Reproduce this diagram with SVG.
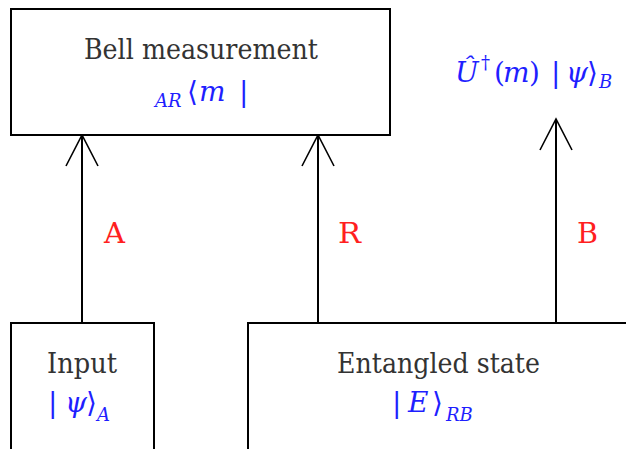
<svg xmlns="http://www.w3.org/2000/svg" width="626" height="449" viewBox="0 0 626 449">
<style>
.box{fill:#fff;stroke:#000;stroke-width:2}
.t{font-family:'DejaVu Serif','Liberation Serif',serif;font-size:27px;fill:#333}
.m{font-family:'DejaVu Serif','Liberation Serif',serif;font-size:28px;fill:#1f1fff}
.i{font-style:italic}
.s{font-size:18px;font-style:italic}
.lab{font-family:'DejaVu Serif','Liberation Serif',serif;font-size:27px;fill:#ff1f1f}
.c{stroke:#000;stroke-width:2;fill:none}
</style>
<defs>
<marker id="ah" markerUnits="userSpaceOnUse" markerWidth="40" markerHeight="40" viewBox="-35 -20 40 40" refX="0" refY="0" orient="auto">
<path d="M-31,-16 L0,0 L-31,16" fill="none" stroke="#000" stroke-width="1.6"/>
</marker>
</defs>
<g id="connectors">
<line class="c" x1="82" y1="323" x2="82" y2="135" marker-end="url(#ah)"/>
<line class="c" x1="318" y1="323" x2="318" y2="135" marker-end="url(#ah)"/>
<line class="c" x1="556" y1="323" x2="556" y2="119" marker-end="url(#ah)"/>
<text class="lab" x="104" y="243" textLength="21" lengthAdjust="spacingAndGlyphs">A</text>
<text class="lab" x="338" y="243" textLength="23" lengthAdjust="spacingAndGlyphs">R</text>
<text class="lab" x="577" y="243" textLength="21" lengthAdjust="spacingAndGlyphs">B</text>
</g>
<g id="bell">
<rect class="box" x="11" y="9" width="379" height="126"/>
<text class="t" x="84" y="59" textLength="234" lengthAdjust="spacingAndGlyphs">Bell measurement</text>
<text class="m"><tspan class="s" x="155" y="107">AR</tspan><tspan x="187" y="101">⟨</tspan><tspan class="i" x="199" y="101">m</tspan><tspan x="239" y="101">|</tspan></text>
</g>
<g id="output">
<text class="m"><tspan class="i" x="455" y="82">Û</tspan><tspan x="481" y="69" font-size="18">†</tspan><tspan x="494" y="82">(</tspan><tspan class="i" x="503" y="82">m</tspan><tspan x="529" y="82">)</tspan><tspan x="551" y="82">|</tspan><tspan class="i" x="566" y="82">ψ</tspan><tspan x="587" y="82">⟩</tspan><tspan class="s" x="599" y="88">B</tspan></text>
</g>
<g id="input">
<rect class="box" x="11" y="323" width="143" height="140"/>
<text class="t" x="47" y="373" textLength="70" lengthAdjust="spacingAndGlyphs">Input</text>
<text class="m"><tspan x="48" y="412">|</tspan><tspan class="i" x="65" y="412">ψ</tspan><tspan x="86" y="412">⟩</tspan><tspan class="s" x="97" y="421">A</tspan></text>
</g>
<g id="entangled">
<rect class="box" x="248" y="323" width="400" height="140"/>
<text class="t" x="337" y="373" textLength="203" lengthAdjust="spacingAndGlyphs">Entangled state</text>
<text class="m"><tspan x="392" y="412">|</tspan><tspan class="i" x="408" y="412">E</tspan><tspan x="432" y="412">⟩</tspan><tspan class="s" x="446" y="421">RB</tspan></text>
</g>
</svg>
